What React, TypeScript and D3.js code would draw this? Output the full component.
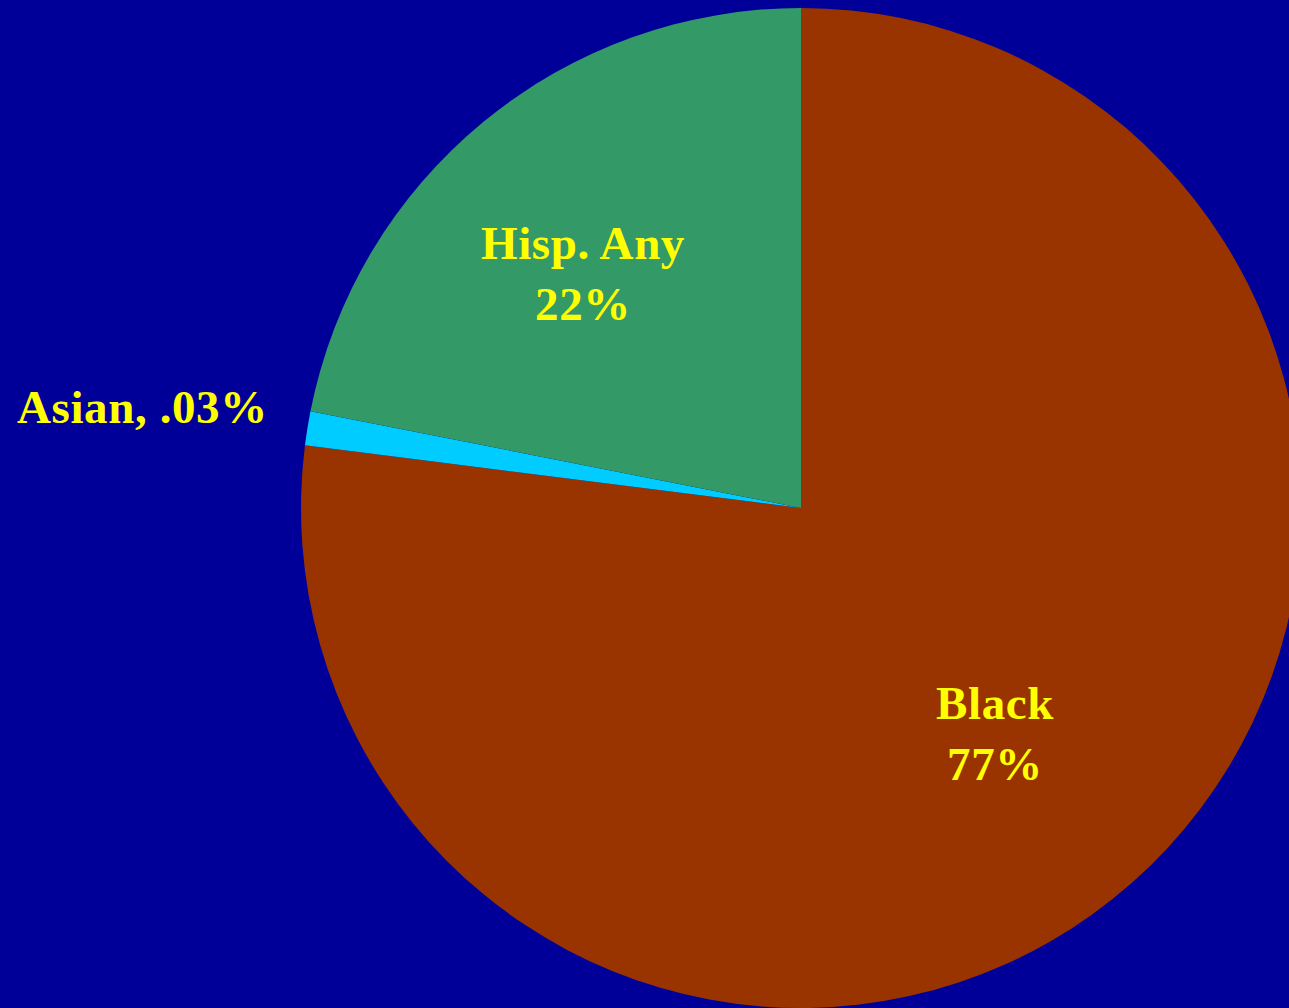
import React from "react";
import * as d3 from "d3";

const categories = ["Black", "Asian", "Hisp. Any"];
const values = [77, 1.1, 21.9];
const colors = ["#993300", "#00CCFF", "#339966"];
const labelLines = [["Black", "77%"], ["Asian, .03%"], ["Hisp. Any", "22%"]];

const W = 1289;
const H = 1008;
const CX = 801;
const CY = 508;
const R = 500;

export default function App() {
  const pie = d3.pie<number>().sort(null).value((d) => d);
  const arcs = pie(values);
  const arcGen = d3.arc<d3.PieArcDatum<number>>().innerRadius(0).outerRadius(R);

  const labelPos: { x: number; y: number; anchor: string }[] = [
    { x: 995, y: 719, anchor: "middle" },
    { x: 17, y: 423, anchor: "start" },
    { x: 583, y: 259, anchor: "middle" },
  ];
  const lineGap = 61;

  return (
    <div style={{ position: "fixed", left: 0, top: 0, width: W, height: H, overflow: "hidden" }}>
      <svg width={W} height={H} style={{ display: "block" }}>
        <rect x={0} y={0} width={W} height={H} fill="#000099" />
        <g transform={`translate(${CX},${CY})`}>
          {arcs.map((a, i) => (
            <path key={categories[i]} d={arcGen(a) || ""} fill={colors[i]} />
          ))}
        </g>
        {labelLines.map((lines, i) => (
          <text
            key={categories[i]}
            x={labelPos[i].x}
            y={labelPos[i].y}
            textAnchor={labelPos[i].anchor}
            fill="#FFFF00"
            fontFamily="'Liberation Serif', 'Times New Roman', serif"
            fontWeight="bold"
            fontSize={47}
            letterSpacing={0.6}
          >
            {lines.map((l, j) => (
              <tspan key={j} x={labelPos[i].x} dy={j === 0 ? 0 : lineGap}>
                {l}
              </tspan>
            ))}
          </text>
        ))}
      </svg>
    </div>
  );
}
